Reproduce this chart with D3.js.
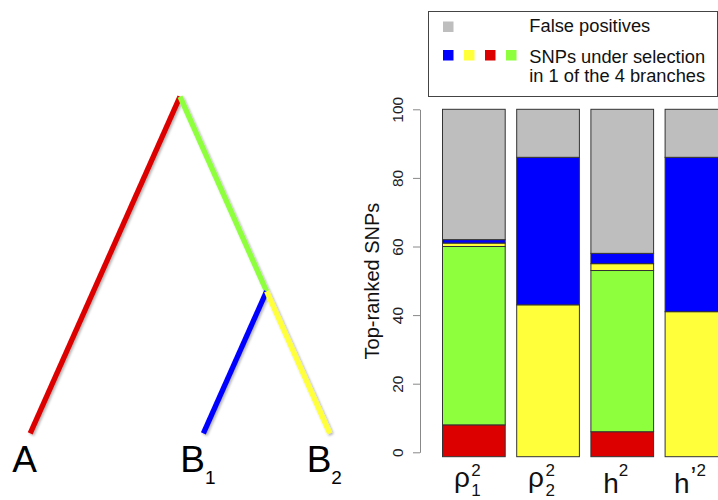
<!DOCTYPE html>
<html><head><meta charset="utf-8">
<script src="https://cdn.jsdelivr.net/npm/d3@7"></script>
<style>
body{margin:0;background:#fff;}
svg{display:block;font-family:"Liberation Sans",Arial,Helvetica,sans-serif;}
</style></head><body>
<svg id="chart" width="718" height="500"></svg>
<script>
// ---------- data ----------
const categories = ["rho1", "rho2", "h", "hprime"];
const tickLabels = [
  {base: "ρ", prime: null, sup: "2", sub: "1"},
  {base: "ρ", prime: null, sup: "2", sub: "2"},
  {base: "h", prime: null, sup: "2", sub: null},
  {base: "h", prime: "’", sup: "2", sub: null}
];
const seriesKeys = ["red", "green", "yellow", "blue", "gray"];
const redValues    = [8, 0, 6, 0];
const greenValues  = [52, 0, 47, 0];
const yellowValues = [1, 43, 2, 41];
const blueValues   = [1, 43, 3, 45];
const grayValues   = [38, 14, 42, 14];
const yTicks = [0, 20, 40, 60, 80, 100];
const yAxisTitle = "Top-ranked SNPs";
const legendGrayLabel = "False positives";
const legendSelLabels = ["SNPs under selection", "in 1 of the 4 branches"];
const legendSelKeys = ["blue", "yellow", "red", "green"];
// tree: depth = time from root (0) to present (1)
const treeData = {name: "", t: 0, children: [
  {name: "A", t: 1, color: "red"},
  {name: "", t: 0.578, color: "green", children: [
    {name: "B", sub: "1", t: 1, color: "blue"},
    {name: "B", sub: "2", t: 1, color: "yellow"}
  ]}
]};

// ---------- setup ----------
const colors = {red: "#DD0000", green: "#8EFF3C", yellow: "#FFFF3A", blue: "#0000FF", gray: "#BEBEBE"};
const svg = d3.select("#chart");
svg.append("rect").attr("width", 718).attr("height", 500).attr("fill", "#fff");

// ---------- tree ----------
const defs = svg.append("defs");
const f = defs.append("filter").attr("id", "shadow").attr("x", "-20%").attr("y", "-20%").attr("width", "140%").attr("height", "140%");
f.append("feDropShadow").attr("dx", 1.5).attr("dy", 1.5).attr("stdDeviation", 1.2)
  .attr("flood-color", "#000").attr("flood-opacity", 0.3);

const yT = d3.scaleLinear().domain([0, 1]).range([96.7, 433.3]);
const slope = 0.445, rootX = 180;
const root = d3.hierarchy(treeData);
root.each(n => {
  n.py = yT(n.data.t);
  if (!n.parent) n.px = rootX;
  else {
    const dir = n.parent.children.indexOf(n) === 0 ? -1 : 1;
    n.px = n.parent.px + dir * slope * (n.py - n.parent.py);
  }
});
const gTree = svg.append("g").attr("filter", "url(#shadow)");
gTree.selectAll("line").data(root.descendants().filter(n => n.parent))
  .join("line")
  .attr("x1", n => n.parent.px).attr("y1", n => n.parent.py)
  .attr("x2", n => n.px).attr("y2", n => n.py)
  .attr("stroke", n => colors[n.data.color])
  .attr("stroke-width", 5.3);

const leafText = svg.append("g").selectAll("text").data(root.leaves()).join("text")
  .attr("x", n => n.px - 5.5).attr("y", 471.7)
  .attr("text-anchor", "middle").attr("fill", "#000");
leafText.append("tspan").attr("font-size", 37).text(n => n.data.name);
leafText.filter(n => n.data.sub).append("tspan").attr("font-size", 19).attr("dy", 12.5).text(n => n.data.sub);

// ---------- bars ----------
const x = d3.scaleBand().domain(categories).range([442, 727.3]).paddingInner(0.155).paddingOuter(0);
const y = d3.scaleLinear().domain([0, 100]).range([452.3, 109.3]);
const table = categories.map((c, i) => ({cat: c, red: redValues[i], green: greenValues[i],
  yellow: yellowValues[i], blue: blueValues[i], gray: grayValues[i]}));
const stacked = d3.stack().keys(seriesKeys)(table);
const baseExtend = 4.4;
svg.append("g").selectAll("g").data(stacked).join("g")
  .attr("fill", s => colors[s.key])
  .selectAll("rect").data(s => s.filter(d => d[1] - d[0] > 0)).join("rect")
  .attr("x", d => x(d.data.cat) + 0.5)
  .attr("width", x.bandwidth())
  .attr("y", d => y(d[1]))
  .attr("height", d => y(d[0]) - y(d[1]) + (d[0] === 0 ? baseExtend : 0))
  .attr("stroke", "#333").attr("stroke-width", 1);

// ---------- y axis ----------
const ga = svg.append("g").attr("transform", "translate(420,0)")
  .call(d3.axisLeft(y).tickValues(yTicks).tickSize(7).tickSizeOuter(0));
ga.attr("font-family", null).attr("font-size", 15.5);
ga.select(".domain").attr("stroke", "#888");
ga.selectAll(".tick line").attr("stroke", "#888");
ga.selectAll(".tick text").attr("transform", "rotate(-90)").attr("x", 0).attr("y", -17)
  .attr("dy", 0).attr("text-anchor", "middle").attr("fill", "#222");
svg.append("text").attr("transform", "translate(379,281) rotate(-90)")
  .attr("text-anchor", "middle").attr("font-size", 20).attr("fill", "#111").text(yAxisTitle);

// ---------- x labels ----------
tickLabels.forEach((lab, i) => {
  const cx = x(categories[i]) + x.bandwidth() / 2 - 6;
  const hasSub = !!lab.sub;
  const baseY = hasSub ? 486.7 : 492.7;
  const supY = hasSub ? 476 : 475.5;
  const g = svg.append("g");
  const tb = g.append("text").attr("x", 0).attr("y", baseY).attr("font-size", 28).attr("fill", "#111").text(lab.base);
  let sx = tb.node().getComputedTextLength() + (hasSub ? 1.5 : 0);
  if (lab.prime) {
    const tp = g.append("text").attr("x", sx + 1).attr("y", 485).attr("font-size", 26).attr("fill", "#111").text(lab.prime);
    sx += tp.node().getComputedTextLength() + 1;
  }
  const ts = g.append("text").attr("x", sx).attr("y", supY).attr("font-size", 17).attr("fill", "#111").text(lab.sup);
  let w = sx + ts.node().getComputedTextLength();
  if (hasSub) {
    const tsub = g.append("text").attr("x", sx).attr("y", 495.5).attr("font-size", 17).attr("fill", "#111").text(lab.sub);
    w = Math.max(w, sx + tsub.node().getComputedTextLength());
  }
  g.attr("transform", `translate(${cx - w / 2},0)`);
});

// ---------- legend ----------
const lg = svg.append("g");
lg.append("rect").attr("x", 428.5).attr("y", 11.5).attr("width", 289).attr("height", 85)
  .attr("fill", "#fff").attr("stroke", "#444").attr("stroke-width", 1);
lg.append("rect").attr("x", 443).attr("y", 21.5).attr("width", 10.5).attr("height", 10.5).attr("fill", colors.gray);
lg.selectAll("rect.sel").data(legendSelKeys).join("rect").attr("class", "sel")
  .attr("x", (d, i) => 443 + i * 21).attr("y", 50).attr("width", 10.5).attr("height", 10.5)
  .attr("fill", d => colors[d]);
lg.append("text").attr("x", 529.3).attr("y", 32.3).attr("font-size", 18.3).attr("fill", "#111").text(legendGrayLabel);
lg.selectAll("text.sel").data(legendSelLabels).join("text").attr("class", "sel")
  .attr("x", 529.3).attr("y", (d, i) => 62.5 + i * 19.2).attr("font-size", 18.3).attr("fill", "#111").text(d => d);
</script>
</body></html>
